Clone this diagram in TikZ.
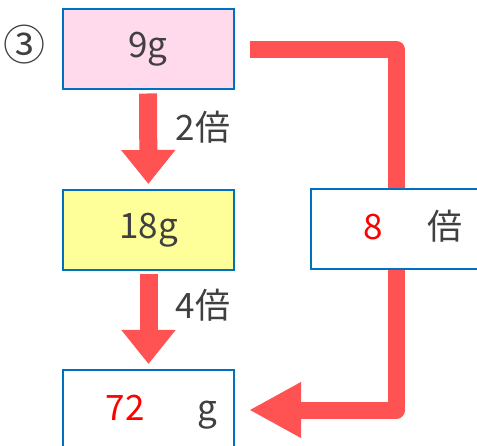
\documentclass[tikz,border=0pt]{standalone}
\usepackage{fontspec}
\setmainfont{Noto Sans CJK JP}
\usetikzlibrary{arrows.meta,positioning,backgrounds}
\definecolor{boxblue}{RGB}{0,112,192}
\definecolor{arrowred}{RGB}{255,82,82}
\definecolor{pinkfill}{RGB}{255,217,236}
\definecolor{yellowfill}{RGB}{255,255,153}
\definecolor{textgray}{RGB}{64,64,64}
\tikzset{
  massbox/.style={draw=boxblue, line width=2pt, rectangle, fill=white, minimum width=171pt, minimum height=80pt, inner sep=0pt, text=textgray, font=\fontsize{35}{40}\selectfont},
  bigtext/.style={text=textgray, font=\fontsize{35}{40}\selectfont, inner sep=0pt},
  downarrow/.style={draw=arrowred, line width=18pt, -{Triangle[length=34pt,width=52pt]}, shorten <=3pt, shorten >=5pt},
}
\begin{document}
\begin{tikzpicture}[x=1pt,y=1pt]
                \useasboundingbox (0,0) rectangle (477,445);
                \node at (148,395.5) [massbox, fill=pinkfill] (box1) {9g};
                \node at (148.5,215) [massbox, fill=yellowfill] (box2) {18g};
                \node at (148.5,35) [massbox] (box3) {};
                \node at (396.5,216) [massbox] (box8) {};
                \node[bigtext, font=\fontsize{42}{46}\selectfont] (num) at (25,400) {③};
                % results in the boxes
                \node[bigtext, anchor=base, text=red] (mass72) at ([xshift=-23.5pt,yshift=-10pt]box3.center) {72};
                \node[bigtext, anchor=base] (unitg) at ([xshift=58.5pt,yshift=-10pt]box3.center) {g};
                \node[bigtext, anchor=base, text=red] (times8) at ([xshift=-23pt,yshift=-11pt]box8.center) {8};
                \node[bigtext, anchor=base] (unitbai) at ([xshift=48pt,yshift=-11pt]box8.center) {倍};
                % step arrows
                \draw[downarrow] (box1) -- (box2);
                \draw[downarrow] (box2) -- (box3);
                \node[bigtext] (times2) at (203,318) {2倍};
                \node[bigtext] (times4) at (203,140) {4倍};
                \begin{scope}[on background layer]
                \draw[arrowred, line width=17pt, line join=round, -{Triangle[length=52pt,width=52pt]}] ([xshift=15pt]box1.east) -- (box8.center |- box1.east) -- (box8.center |- box3.east) -- ([xshift=14pt]box3.east);
                \end{scope}
            \end{tikzpicture}
\end{document}
